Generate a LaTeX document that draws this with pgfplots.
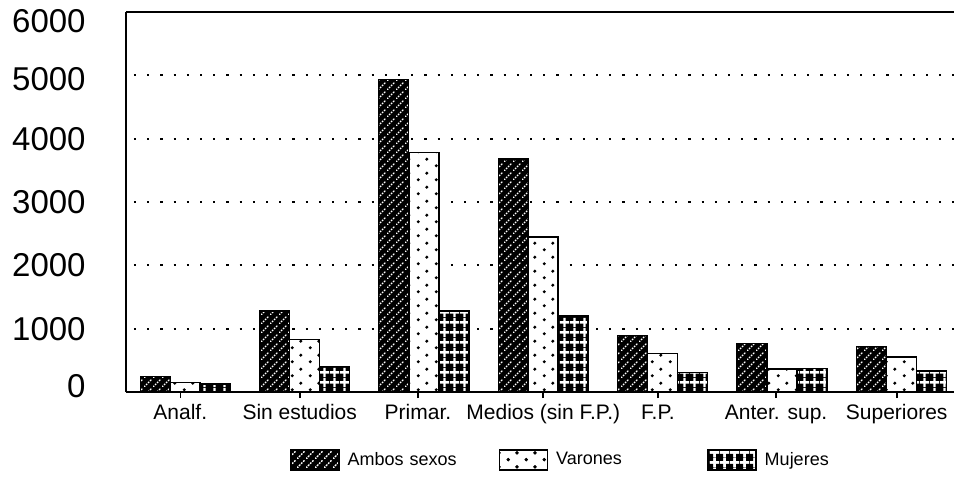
\documentclass[border=0pt]{standalone}
\usepackage{fontspec}
\setmainfont{Liberation Sans}
\usepackage{pgfplots}
\pgfplotsset{compat=1.18}
\usetikzlibrary{patterns,patterns.meta}

\tikzdeclarepattern{name=ambos, type=uncolored,
  bounding box={(0pt,0pt) and (4.5pt,4.5pt)}, tile size={(4.5pt,4.5pt)},
  code={\draw[line width=0.6pt, dash pattern=on 0.9pt off 0.7pt] (0pt,0pt) -- (4.5pt,4.5pt);}}
\tikzdeclarepattern{name=varones, type=uncolored,
  bounding box={(0pt,0pt) and (9pt,7pt)}, tile size={(9pt,7pt)},
  code={\fill (2.25pt,1.75pt) circle[radius=0.9pt];
        \fill (6.75pt,5.25pt) circle[radius=0.9pt];}}
\tikzdeclarepattern{name=mujeres, type=uncolored,
  bounding box={(0pt,0pt) and (5pt,5pt)}, tile size={(5pt,5pt)},
  code={\fill (0pt,1.85pt) rectangle (5pt,3.15pt);
        \fill (1.85pt,0pt) rectangle (3.15pt,5pt);}}

\begin{document}
\begin{tikzpicture}
\begin{axis}[
  scale only axis, width=414pt, height=190pt,
  ymin=0, ymax=6000, xmin=-0.495, xmax=6.44,
  ybar=0pt, bar width=15pt,
  axis lines=left, axis line style={-, line width=1.1pt},
  tick align=outside, major tick length=3pt,
  xtick={-0.04,0.96,1.95,3,3.96,4.95,5.96},
  xticklabels={Analf., Sin estudios, Primar., Medios (sin F.P.), F.P., Anter. sup., Superiores},
  xticklabel style={anchor=base, yshift=-10.5pt, font=\fontsize{10.5}{12}\selectfont},
  xtick style={line width=0.8pt, black},
  ytick={0,1000,2000,3000,4000,5000,6000},
  yticklabels={\raisebox{3pt}[\height][\depth]{0},1000,2000,3000,4000,\raisebox{-2pt}[\height][\depth]{5000},\raisebox{-4.5pt}[\height][\depth]{6000}},
  yticklabel style={anchor=east, inner sep=0pt, xshift=-17pt, font=\fontsize{16.5}{19}\selectfont},
  ytick style={draw=none},
  /pgf/number format/assume math mode=true,
  ymajorgrids,
  major grid style={line width=1.1pt, dash pattern=on 1.1pt off 5.5pt, dash phase=-4pt, black},
  extra description/.code={\draw[line width=1.1pt] (rel axis cs:0,1) -- (rel axis cs:1,1);},
  legend columns=3,
  legend style={at={(0.198,-0.179)}, anchor=west, draw=none, inner sep=0pt,
    font=\fontsize{9}{11}\selectfont,
    nodes={inner sep=0pt, text width=75.5pt, align=left},
    /tikz/every odd column/.append style={column sep=4pt}},
]
\addplot[fill=black, draw=black, line width=0.6pt,
  postaction={pattern=ambos, pattern color=white},
  legend image code/.code={\draw[fill=black, draw=black, line width=0.6pt, postaction={pattern=ambos, pattern color=white}] (0pt,-5pt) rectangle (24pt,5pt);}]
  coordinates {(0,250) (1,1280) (2,4930) (3,3680) (4,890) (5,760) (6,720)};
\addplot[fill=white, draw=black, line width=0.8pt,
  postaction={pattern=varones, pattern color=black},
  legend image code/.code={\draw[fill=white, draw=black, line width=0.8pt, postaction={pattern=varones, pattern color=black}] (0pt,-5pt) rectangle (24pt,5pt);}]
  coordinates {(0,150) (1,830) (2,3780) (3,2450) (4,610) (5,360) (6,550)};
\addplot[fill=black, draw=black, line width=0.8pt,
  postaction={pattern=mujeres, pattern color=white},
  legend image code/.code={\draw[fill=black, draw=black, line width=0.8pt, postaction={pattern=mujeres, pattern color=white}] (0pt,-5pt) rectangle (24pt,5pt);}]
  coordinates {(0,130) (1,400) (2,1280) (3,1200) (4,310) (5,370) (6,330)};
\legend{Ambos sexos, Varones, Mujeres}
\end{axis}
\pgfresetboundingbox
\path (-63pt,-42pt) rectangle (415pt,196pt);
\end{tikzpicture}
\end{document}
